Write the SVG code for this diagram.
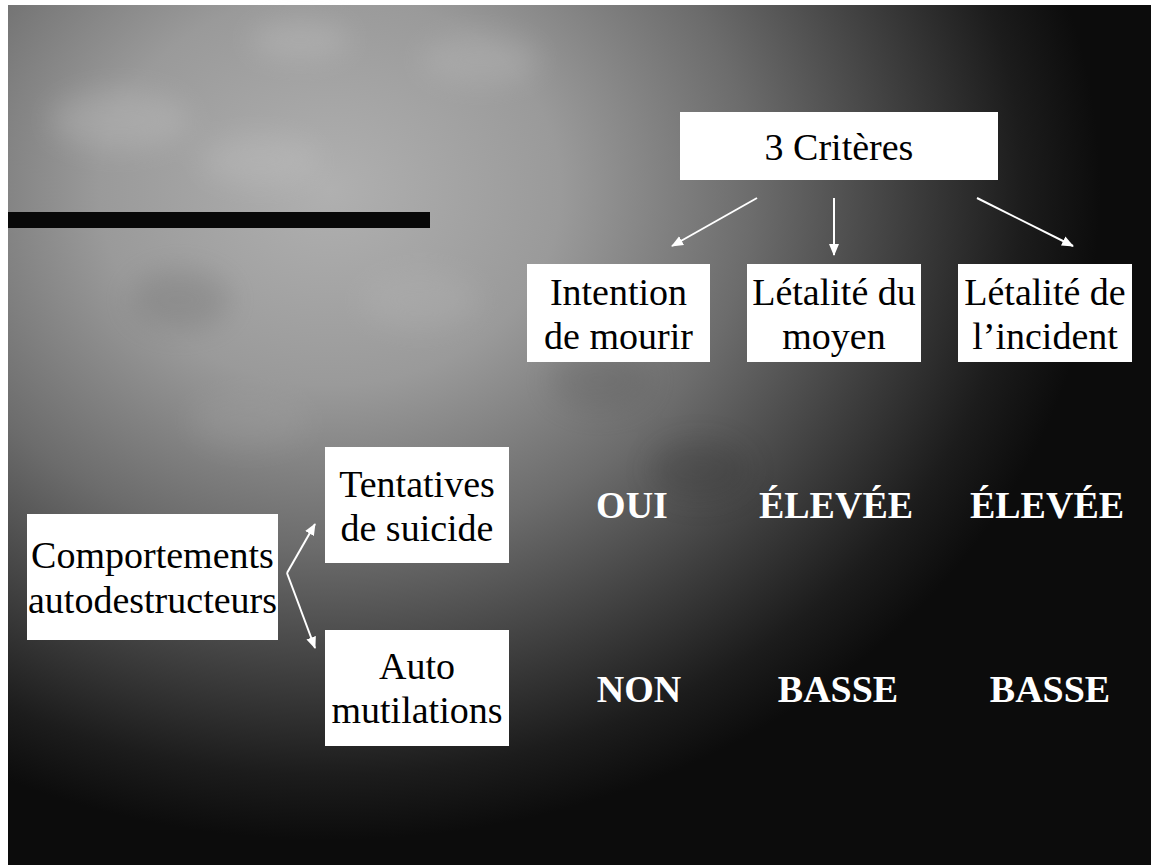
<svg xmlns="http://www.w3.org/2000/svg" width="1151" height="865" viewBox="0 0 1151 865">
  <defs>
    <radialGradient id="bg" gradientUnits="userSpaceOnUse" cx="0" cy="0" r="1" gradientTransform="translate(330,190) scale(770,650)">
      <stop offset="0" stop-color="#b0b0b0"/>
      <stop offset="0.3" stop-color="#9a9a9a"/>
      <stop offset="0.55" stop-color="#6c6c6c"/>
      <stop offset="0.75" stop-color="#3e3e3e"/>
      <stop offset="0.9" stop-color="#1c1c1c"/>
      <stop offset="1" stop-color="#0c0c0c"/>
    </radialGradient>
    <filter id="blur" x="-50%" y="-50%" width="200%" height="200%">
      <feGaussianBlur stdDeviation="14"/>
    </filter>
    <marker id="ah" markerUnits="userSpaceOnUse" markerWidth="12" markerHeight="12" viewBox="0 0 12 12" refX="11" refY="6" orient="auto">
      <path d="M0,1 L12,6 L0,11 Z" fill="#ffffff"/>
    </marker>
    <style>
      .box { fill: #ffffff; }
      .t { font-family: "Liberation Serif", "Times New Roman", serif; font-size: 38px; fill: #000000; text-anchor: middle; }
      .v { font-family: "Liberation Serif", "Times New Roman", serif; font-size: 38px; font-weight: bold; fill: #ffffff; text-anchor: middle; }
      .c { stroke: #ffffff; stroke-width: 2; fill: none; marker-end: url(#ah); }
    </style>
  </defs>

  <rect x="0" y="0" width="1151" height="865" fill="#ffffff"/>
  <rect x="8" y="5" width="1143" height="860" fill="url(#bg)"/>
  <g filter="url(#blur)" opacity="0.22">
    <ellipse cx="120" cy="120" rx="70" ry="30" fill="#d8d8d8"/>
    <ellipse cx="260" cy="160" rx="60" ry="25" fill="#d0d0d0"/>
    <ellipse cx="300" cy="40" rx="50" ry="20" fill="#d8d8d8"/>
    <ellipse cx="480" cy="60" rx="60" ry="25" fill="#cccccc"/>
    <ellipse cx="420" cy="300" rx="60" ry="30" fill="#bdbdbd"/>
    <ellipse cx="180" cy="300" rx="50" ry="30" fill="#5a5a5a"/>
    <ellipse cx="600" cy="380" rx="50" ry="30" fill="#505050"/>
    <ellipse cx="250" cy="420" rx="60" ry="30" fill="#a8a8a8"/>
    <ellipse cx="700" cy="470" rx="50" ry="30" fill="#2a2a2a"/>
  </g>

  <rect id="bar" x="8" y="212" width="422" height="16" fill="#080808"/>

  <g id="connectors">
    <line class="c" x1="757" y1="198" x2="672" y2="246"/>
    <line class="c" x1="834" y1="198" x2="834" y2="255"/>
    <line class="c" x1="977" y1="198" x2="1073" y2="246"/>
    <line class="c" x1="287" y1="573" x2="315" y2="524"/>
    <line class="c" x1="287" y1="573" x2="315" y2="648"/>
  </g>

  <g id="criteres">
    <rect class="box" x="680" y="112" width="318" height="68"/>
    <text class="t" x="839" y="160">3 Critères</text>
  </g>
  <g id="intention">
    <rect class="box" x="527" y="264" width="183" height="98"/>
    <text class="t" x="618.5" y="305">Intention</text>
    <text class="t" x="618.5" y="349">de mourir</text>
  </g>
  <g id="letalite-moyen">
    <rect class="box" x="747" y="264" width="174" height="98"/>
    <text class="t" x="834" y="305">Létalité du</text>
    <text class="t" x="834" y="349">moyen</text>
  </g>
  <g id="letalite-incident">
    <rect class="box" x="958" y="264" width="174" height="98"/>
    <text class="t" x="1045" y="305">Létalité de</text>
    <text class="t" x="1045" y="349">l’incident</text>
  </g>
  <g id="comportements">
    <rect class="box" x="27" y="514" width="251" height="126"/>
    <text class="t" x="152.5" y="568">Comportements</text>
    <text class="t" x="152.5" y="613">autodestructeurs</text>
  </g>
  <g id="tentatives">
    <rect class="box" x="325" y="447" width="184" height="116"/>
    <text class="t" x="417" y="497">Tentatives</text>
    <text class="t" x="417" y="541">de suicide</text>
  </g>
  <g id="automutilations">
    <rect class="box" x="325" y="630" width="184" height="116"/>
    <text class="t" x="417" y="679">Auto</text>
    <text class="t" x="417" y="723">mutilations</text>
  </g>

  <g id="values">
    <text class="v" x="632" y="518">OUI</text>
    <text class="v" x="836" y="518">ÉLEVÉE</text>
    <text class="v" x="1047" y="518">ÉLEVÉE</text>
    <text class="v" x="639" y="702">NON</text>
    <text class="v" x="838" y="702">BASSE</text>
    <text class="v" x="1050" y="702">BASSE</text>
  </g>
</svg>
